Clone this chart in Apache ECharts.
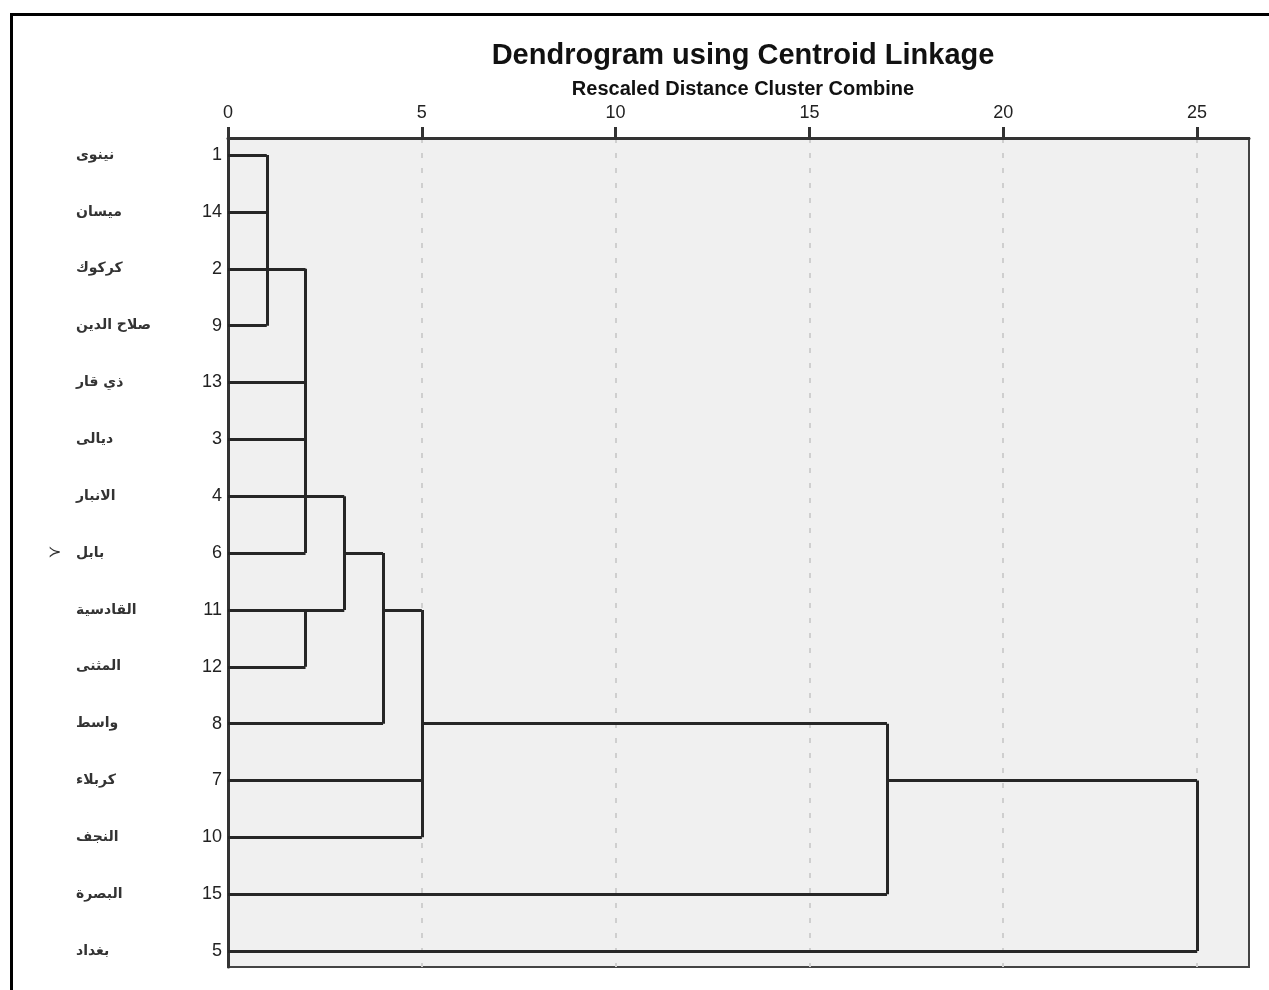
<!DOCTYPE html>
<html>
<head>
<meta charset="utf-8">
<script src="https://cdn.jsdelivr.net/npm/echarts@6/dist/echarts.min.js"></script>
<style>
  html, body { margin: 0; padding: 0; background: #fff; }
  #chart { position: absolute; left: 0; top: 0; width: 1269px; height: 990px; }
  #frame { position: absolute; left: 10px; top: 13px; right: 0; bottom: 0;
           border-left: 3px solid #000; border-top: 3px solid #000; pointer-events: none; }
</style>
</head>
<body>
<div id="chart"></div>
<div id="frame"></div>
<script>
// Leaf order (top to bottom) and their case numbers / names
const leafIds = ['1','14','2','9','13','3','4','6','11','12','8','7','10','15','5'];
const leafNames = ['نينوى','ميسان','كركوك','صلاح الدين','ذي قار','ديالى','الانبار','بابل','القادسية','المثنى','واسط','كربلاء','النجف','البصرة','بغداد'];
const leafMarks = ['','','','','','','','≻','','','','','','',''];
const xTickValues = [0, 5, 10, 15, 20, 25];

// Horizontal links: [row, fromDistance, toDistance]
const hLinks = [
  [0, 0, 1], [1, 0, 1], [3, 0, 1],
  [2, 0, 2], [4, 0, 2], [5, 0, 2], [7, 0, 2], [9, 0, 2],
  [6, 0, 3], [8, 0, 3],
  [10, 0, 4], [7, 3, 4],
  [11, 0, 5], [12, 0, 5], [8, 4, 5],
  [13, 0, 17], [10, 5, 17],
  [14, 0, 25], [11, 17, 25]
];
// Vertical joins: [distance, fromRow, toRow]
const vLinks = [
  [1, 0, 3],
  [2, 2, 7],
  [2, 8, 9],
  [3, 6, 8],
  [4, 7, 10],
  [5, 8, 12],
  [17, 10, 13],
  [25, 11, 14]
];

const segs = [];
hLinks.forEach(h => segs.push({ coords: [[h[1], h[0]], [h[2], h[0]]] }));
vLinks.forEach(v => segs.push({ coords: [[v[0], v[1]], [v[0], v[2]]] }));

const chart = echarts.init(document.getElementById('chart'));
chart.setOption({
  animation: false,
  backgroundColor: 'transparent',
  title: [
    { text: 'Dendrogram using Centroid Linkage', left: 738, textAlign: 'center', top: 36,
      textStyle: { fontFamily: 'Liberation Sans', fontWeight: 'bold', fontSize: 29, color: '#111' } },
    { text: 'Rescaled Distance Cluster Combine', left: 738, textAlign: 'center', top: 74,
      textStyle: { fontFamily: 'Liberation Sans', fontWeight: 'bold', fontSize: 20, color: '#111' } }
  ],
  grid: { left: 228, top: 138, right: 20, bottom: 23, show: true,
          backgroundColor: '#f0f0f0', borderColor: '#444', borderWidth: 2 },
  xAxis: {
    type: 'value', position: 'top', min: 0, max: 26.34, interval: 5,
    axisLine: { show: true, onZero: false, lineStyle: { color: '#333', width: 3 } },
    axisTick: { show: true, inside: false, length: 11, customValues: xTickValues,
                lineStyle: { color: '#333', width: 3 } },
    axisLabel: { customValues: xTickValues, margin: 16, fontFamily: 'Liberation Sans',
                 fontSize: 18, color: '#222' },
    splitLine: { show: true, lineStyle: { color: '#cfcfcf', width: 2, type: [5, 10] } }
  },
  yAxis: {
    type: 'value', inverse: true, min: -0.3, max: 14.28,
    axisLine: { show: true, onZero: false, lineStyle: { color: '#333', width: 3 } },
    axisTick: { show: false },
    splitLine: { show: false },
    axisLabel: {
      customValues: leafIds.map((d, i) => i),
      margin: 6,
      formatter: function (v) {
        const i = Math.round(v);
        return (leafMarks[i] ? '{m|' + leafMarks[i] + '}' : '') +
               '{a|' + leafNames[i] + '}{b|' + leafIds[i] + '}';
      },
      rich: {
        m: { width: 28, align: 'left', fontSize: 16, color: '#333', fontFamily: 'DejaVu Sans' },
        a: { width: 112, align: 'left', fontSize: 14, fontWeight: 'bold', color: '#333',
             fontFamily: 'DejaVu Sans' },
        b: { width: 34, align: 'right', fontSize: 18, color: '#222', fontFamily: 'Liberation Sans' }
      }
    }
  },
  series: [{
    type: 'lines',
    coordinateSystem: 'cartesian2d',
    polyline: false,
    silent: true,
    lineStyle: { color: '#262626', width: 3, opacity: 1 },
    data: segs
  }]
});
</script>
</body>
</html>
